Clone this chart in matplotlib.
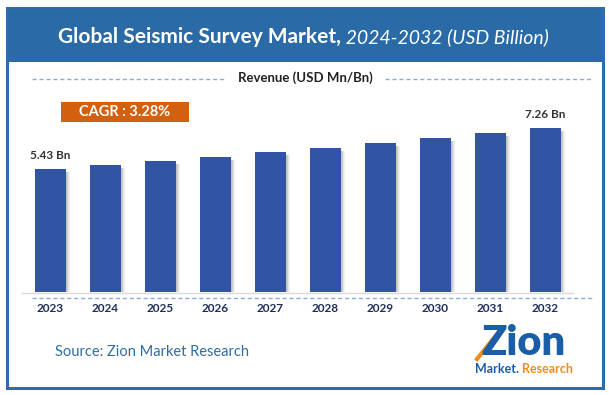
import matplotlib.pyplot as plt
from matplotlib.patches import Rectangle

years = ['2023', '2024', '2025', '2026', '2027', '2028', '2029', '2030', '2031', '2032']
revenue = [5.43, 5.61, 5.79, 5.98, 6.18, 6.38, 6.59, 6.81, 7.03, 7.26]
first_label = '5.43 Bn'
last_label = '7.26 Bn'
cagr_text = 'CAGR : 3.28%'

W, H = 609, 395
BAND = '#2a6aa6'
BAR = '#3155a4'
ORANGE = '#d3600f'
NAVY = '#1f2d5a'
DASH = '#8eaadb'

plt.rcParams['font.family'] = ['Lato', 'DejaVu Sans']

fig = plt.figure(figsize=(W / 100, H / 100), dpi=100)

# background axes in pixel coords (y down)
bg = fig.add_axes([0, 0, 1, 1])
bg.set_xlim(0, W)
bg.set_ylim(H, 0)
bg.axis('off')

bg.add_patch(Rectangle((7, 8), 596, 380, facecolor='white', edgecolor='#2c6db0', lw=2.2))
bg.add_patch(Rectangle((8, 9), 594, 53, facecolor=BAND, edgecolor='none'))

# title: bold part + italic part, centred together
t1 = bg.text(0, 37, 'Global Seismic Survey Market,', color='white', fontsize=15,
             fontweight='bold', ha='left', va='center')
t2 = bg.text(0, 37, ' 2024-2032 (USD Billion)', color='white', fontsize=14,
             fontstyle='italic', ha='left', va='center')
fig.canvas.draw()
r = fig.canvas.get_renderer()
w1 = t1.get_window_extent(r).width
w2 = t2.get_window_extent(r).width
x0 = 303 - (w1 + w2) / 2
t1.set_x(x0)
t2.set_x(x0 + w1)

bg.text(305, 78, 'Revenue (USD Mn/Bn)', color='#222222', fontsize=9.5,
        fontweight='bold', ha='center', va='center')
bg.plot([32, 226], [79, 79], ls=(0, (3, 2)), color=DASH, lw=1)
bg.plot([385, 593], [79, 79], ls=(0, (3, 2)), color=DASH, lw=1)

bg.add_patch(Rectangle((61, 102), 128, 20, facecolor=ORANGE, edgecolor='none'))
bg.text(125, 112.5, cagr_text, color='white', fontsize=10.5, fontweight='bold',
        ha='center', va='center')

bg.plot([22, 573], [292.5, 292.5], color='#d9d9d9', lw=1)
bg.plot([32, 594], [298, 298], ls=(0, (3, 2)), color=DASH, lw=1)

bg.text(55, 352, 'Source: Zion Market Research', color='#2e6da4', fontsize=10.5,
        ha='left', va='center')

# logo approximation
bg.text(524, 343, 'Zion', color='#1a5ea8', fontsize=30, fontweight='heavy',
        ha='center', va='center')
bg.plot([477, 502], [359, 328], color='#f08c1c', lw=3)
bg.text(475, 369, 'Market.', color='#1a5ea8', fontsize=9, fontweight='bold',
        ha='left', va='center')
bg.text(522, 369, 'Research', color='#f08c1c', fontsize=9, fontweight='bold',
        ha='left', va='center')

# bar chart axes
pitch = 55.0
c0 = 50.3
ppu = 22.6
left_px, right_px = 22, 573
bottom_px, top_px = 292, 100
ax = fig.add_axes([left_px / W, (H - bottom_px) / H,
                   (right_px - left_px) / W, (bottom_px - top_px) / H])
ax.set_xlim((left_px - c0) / pitch, (right_px - c0) / pitch)
ax.set_ylim(0, (bottom_px - top_px) / ppu)
ax.axis('off')
ax.patch.set_alpha(0)

xs = list(range(len(years)))
# soft shadow to the right of each bar
for k in range(1, 7):
    ax.bar([x + (k * 0.012) for x in xs], [v - 0.12 for v in revenue], width=0.56,
           color='#000000', alpha=0.05, zorder=1)
ax.bar(xs, revenue, width=0.56, color=BAR, zorder=2)

ax.text(xs[0], revenue[0] + 0.35, first_label, color='#333333', fontsize=8.5,
        fontweight='bold', ha='center', va='bottom')
ax.text(xs[-1], revenue[-1] + 0.35, last_label, color='#333333', fontsize=8.5,
        fontweight='bold', ha='center', va='bottom')

for x, yr in zip(xs, years):
    bg.text(c0 + x * pitch, 308, yr, color=NAVY, fontsize=8.5, fontweight='bold',
            ha='center', va='center')

fig.savefig('out.png', dpi=100)
